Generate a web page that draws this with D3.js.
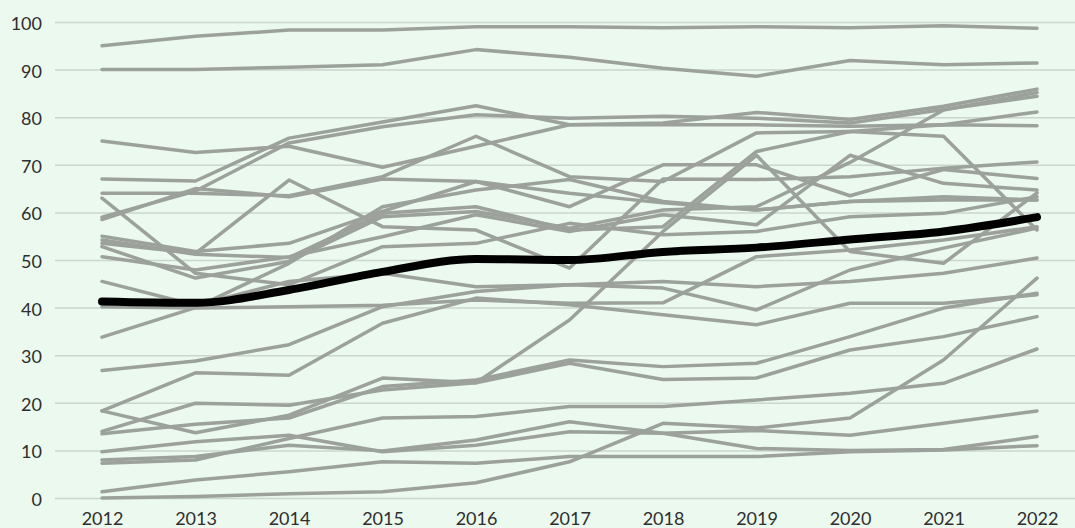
<!DOCTYPE html>
<html>
  <head>
    <meta charset="utf-8">
    <title>Spaghetti chart</title>
    <script src="https://d3js.org/d3.v7.min.js"></script>
    <style>
      body { margin: 0; background: #ebf9ee; }
      #chart { display: block; }
      .grid line { stroke: #cbd6cd; stroke-width: 1.5; }
      .tick text { font-family: Lato, "Open Sans", sans-serif; font-size: 18px; fill: #2e2e2e; }
      .series { fill: none; stroke: #9ca19c; stroke-width: 3.5; stroke-linecap: round; stroke-linejoin: round; }
      .average { fill: none; stroke: #000; stroke-width: 8; stroke-linecap: round; stroke-linejoin: round; }
    </style>
  </head>
  <body>
    <svg id="chart" width="1075" height="528">
      <g id="gridGroup"></g>
      <g id="lineGroup"></g>
      <g id="xAxisGroup"></g>
    </svg>
    <script>
      // data
      years = [2012, 2013, 2014, 2015, 2016, 2017, 2018, 2019, 2020, 2021, 2022];
      yTicks = [0, 10, 20, 30, 40, 50, 60, 70, 80, 90, 100];
      average = [41.3, 41, 43.7, 47.5, 50.2, 50, 51.7, 52.6, 54.3, 56, 59];
      s01 = [95, 97, 98.3, 98.3, 99, 99, 98.8, 99, 98.8, 99.2, 98.7];
      s02 = [90, 90, 90.5, 91, 94.2, 92.6, 90.3, 88.6, 91.9, 91, 91.4];
      s03 = [67, 66.6, 75.6, 79, 82.4, 78.4, 78.8, 81, 79.5, 82.3, 85.9];
      s04 = [59, 64.5, 74.6, 78, 80.5, 79.8, 80.2, 79.8, 78.8, 81.6, 84.4];
      s05 = [75, 72.6, 73.9, 69.5, 73.9, 78.4, 78.4, 78.4, 78.1, 78.4, 78.2];
      s06 = [64, 64, 63.5, 67.5, 76, 67.5, 66.5, 76.7, 77, 76, 56.3];
      s07 = [58.5, 65, 63.3, 67, 66.5, 61.2, 70, 70, 63.5, 69, 67.1];
      s08 = [55, 51.8, 53.5, 60.2, 66.5, 64, 62, 60.5, 62.3, 62.6, 62.6];
      s09 = [54.2, 51.2, 50.5, 59.8, 61.2, 56.3, 57, 72.8, 77, 78.4, 81.1];
      s10 = [53.5, 51.4, 66.8, 57, 56.3, 48.3, 67, 66.9, 67.5, 69.3, 70.6];
      s11 = [52.8, 46.2, 49.7, 59.1, 60.2, 56.7, 60.5, 61.2, 70.5, 81.5, 85.2];
      s12 = [50.7, 47.9, 50.7, 54.9, 59.5, 56, 59.5, 57.4, 72, 66.1, 64.7];
      s13 = [63, 47.2, 44.8, 52.8, 53.5, 57.7, 55.3, 56, 59.1, 59.8, 63.3];
      s14 = [45.5, 40.5, 45.5, 47.2, 44.4, 44.8, 45.5, 44.4, 45.5, 47.2, 50.4];
      s15 = [33.8, 40, 49.3, 61.2, 64.7, 66.9, 62.3, 60.5, 62.3, 63.3, 62.6];
      s16 = [40.2, 39.9, 40.2, 40.5, 41.6, 40.9, 41, 50.7, 52.1, 54.2, 57];
      s17 = [18.3, 26.3, 25.8, 36.7, 42, 40.6, 38.5, 36.4, 40.9, 40.9, 42.7];
      s18 = [26.8, 28.8, 32.2, 40.2, 43.4, 44.8, 44.1, 39.5, 47.9, 52.5, 56.7];
      s19 = [14, 19.9, 19.5, 22.7, 24.2, 37.4, 56, 72, 51.8, 49.3, 64.1];
      s20 = [13.5, 15.5, 16.8, 23.4, 24.8, 29, 27.6, 28.3, 33.9, 39.9, 43];
      s21 = [18.3, 13.7, 17.4, 25.2, 24.2, 28.3, 24.9, 25.2, 31.1, 33.9, 38.1];
      s22 = [7.3, 8, 12.5, 16.8, 17.1, 19.2, 19.2, 20.6, 22, 24.1, 31.3];
      s23 = [9.7, 11.8, 13.2, 9.7, 11.1, 13.9, 13.6, 14.2, 13.2, 15.7, 18.3];
      s24 = [8, 8.7, 11.1, 9.9, 12.2, 16, 13.6, 10.4, 10, 10.2, 12.9];
      s25 = [1.3, 3.8, 5.5, 7.6, 7.3, 8.7, 8.7, 8.7, 9.7, 10.1, 11];
      s26 = [0, 0.3, 0.9, 1.3, 3.2, 7.6, 15.7, 14.7, 16.8, 29, 46.2];
      series = [s01, s02, s03, s04, s05, s06, s07, s08, s09, s10, s11, s12, s13,
        s14, s15, s16, s17, s18, s19, s20, s21, s22, s23, s24, s25, s26];

      // page elements
      width = 1075;
      height = 528;
      gridGroup = d3.select("#gridGroup");
      lineGroup = d3.select("#lineGroup");
      xAxisGroup = d3.select("#xAxisGroup");

      // scales
      x = d3.scaleLinear()
        .domain([2012, 2022])
        .range([102, 1037]);
      y = d3.scaleLinear()
        .domain([0, 100])
        .range([498, 22]);

      // gridlines with labels on the left
      gridGroup
        .attr("class", "grid")
        .attr("transform", "translate(" + width + ",0)")
        .call(d3.axisLeft(y)
          .tickValues(yTicks)
          .tickSize(width - 55)
          .tickPadding(13))
        .call(function(g) { g.select(".domain").remove(); });
      gridGroup.selectAll(".tick text").attr("dy", "0.42em");

      // year labels
      xAxisGroup
        .attr("transform", "translate(0," + y(0) + ")")
        .call(d3.axisBottom(x)
          .tickValues(years)
          .tickFormat(d3.format("d"))
          .tickSize(0)
          .tickPadding(14))
        .call(function(g) { g.select(".domain").remove(); });

      // lines
      line = d3.line()
        .x(function(d, i) { return x(years[i]); })
        .y(function(d) { return y(d); });
      lineGroup.selectAll(".series")
          .data(series)
        .enter().append("path")
          .classed("series", true)
          .attr("d", line);
      lineGroup.append("path")
        .datum(average)
        .classed("average", true)
        .attr("d", line.curve(d3.curveMonotoneX));
    </script>
  </body>
</html>
